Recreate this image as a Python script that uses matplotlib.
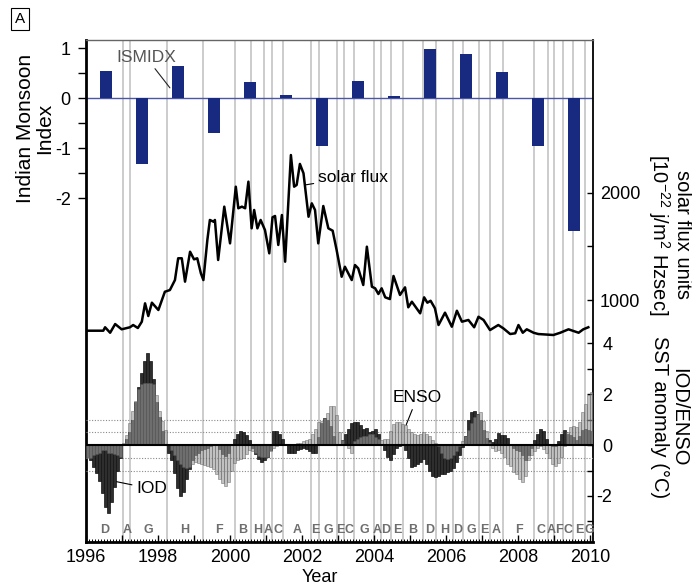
import numpy as np
import matplotlib.pyplot as plt
from matplotlib import transforms
from matplotlib.ticker import MultipleLocator, FuncFormatter

plt.rcParams['font.family'] = ['Liberation Sans', 'DejaVu Sans']
plt.rcParams['axes.unicode_minus'] = False
plt.rcParams['mathtext.fontset'] = 'custom'
plt.rcParams['mathtext.rm'] = 'Liberation Sans'

# Indian summer monsoon index, one value per year
ismidx_years = np.arange(1996, 2010)
ismidx = [0.55, -1.31, 0.65, -0.69, 0.33, 0.07, -0.95,
          0.35, 0.05, 0.99, 0.89, 0.53, -0.95, -2.65]

# solar flux
flux_year = [1996.0, 1996.48, 1996.53, 1996.67, 1996.81, 1996.99, 1997.22, 1997.31,
             1997.44, 1997.55, 1997.64, 1997.73, 1997.83, 1998.01, 1998.19, 1998.33,
             1998.47, 1998.56, 1998.66, 1998.75, 1998.89, 1999.0, 1999.09, 1999.19,
             1999.26, 1999.37, 1999.44, 1999.54, 1999.58, 1999.67, 1999.84, 2000.0,
             2000.16, 2000.23, 2000.33, 2000.42, 2000.51, 2000.6, 2000.67, 2000.76,
             2000.85, 2000.97, 2001.09, 2001.18, 2001.25, 2001.34, 2001.44, 2001.53,
             2001.69, 2001.78, 2001.85, 2001.94, 2002.04, 2002.18, 2002.27, 2002.36,
             2002.45, 2002.59, 2002.73, 2002.85, 2002.96, 2003.1, 2003.19, 2003.38,
             2003.47, 2003.56, 2003.7, 2003.8, 2003.94, 2004.03, 2004.12, 2004.21,
             2004.31, 2004.44, 2004.54, 2004.72, 2004.86, 2004.95, 2005.05, 2005.28,
             2005.39, 2005.48, 2005.57, 2005.69, 2005.79, 2005.97, 2006.16, 2006.3,
             2006.44, 2006.62, 2006.78, 2006.9, 2007.04, 2007.22, 2007.45, 2007.59,
             2007.78, 2007.92, 2008.01, 2008.13, 2008.24, 2008.43, 2008.56, 2008.98,
             2009.17, 2009.4, 2009.68, 2009.81, 2009.95]
flux_val = [714, 714, 746, 695, 776, 727, 746, 767,
            739, 798, 969, 851, 975, 907, 1077, 1093,
            1186, 1389, 1389, 1171, 1450, 1379, 1389, 1249,
            1186, 1559, 1746, 1730, 1746, 1373, 1870, 1528,
            2056, 1855, 1870, 1855, 2103, 1668, 1839, 1668,
            1746, 1652, 1435, 1771, 1783, 1513, 1792, 1357,
            2351, 2056, 2072, 2268, 2181, 1776, 1901, 1839,
            1528, 1876, 1668, 1646, 1466, 1217, 1310, 1186,
            1326, 1295, 1140, 1497, 1124, 1109, 1056, 1109,
            1025, 1009, 1224, 1047, 1118, 932, 984, 876,
            1025, 975, 993, 923, 767, 882, 751, 900,
            798, 814, 746, 844, 814, 720, 767, 736,
            683, 690, 767, 695, 727, 695, 683, 674,
            695, 727, 695, 727, 746]

# monthly SST anomalies, Jan 1996 - Jan 2010
iod = [-0.45, -0.6, -0.85, -1.1, -1.4, -1.9, -2.45, -2.68, -2.25, -1.65, -1.0, -0.5,
       0.05, 0.25, 0.5, 1.0, 1.7, 2.3, 2.85, 3.3, 3.6, 3.3, 2.6, 1.7,
       1.1, 0.55, 0.05, -0.3, -0.6, -1.1, -1.7, -2.0, -1.85, -1.35, -0.95, -0.6,
       -0.4, -0.3, -0.2, -0.15, -0.12, -0.05, 0.04, 0.0, -0.15, -0.35, -0.42, -0.3,
       0.05, 0.25, 0.45, 0.56, 0.52, 0.4, 0.2, -0.1, -0.35, -0.55, -0.65, -0.6,
       -0.45, -0.2, 0.55, 0.56, 0.45, 0.25, 0.02, -0.3, -0.32, -0.3, -0.2, -0.15,
       -0.12, -0.15, -0.25, -0.3, -0.32, 0.3, 0.85, 1.05, 1.0, 0.75, 0.35, 0.05,
       0.0, 0.2, 0.45, 0.65, 0.85, 0.92, 0.9, 0.8, 0.65, 0.68, 0.52, 0.56,
       0.62, 0.45, 0.05, -0.2, -0.45, -0.58, -0.35, -0.1, -0.04, 0.0, -0.2, -0.5,
       -0.88, -0.82, -0.76, -0.68, -0.56, -0.75, -1.0, -1.2, -1.24, -1.2, -1.15, -1.12,
       -1.07, -1.02, -0.92, -0.68, -0.38, -0.08, 0.35, 1.0, 1.3, 1.35, 1.22, 0.98,
       0.6, 0.28, 0.18, 0.12, 0.22, 0.48, 0.4, 0.38, 0.28, 0.0, -0.1, -0.2,
       -0.25, -0.38, -0.6, -0.4, -0.1, 0.18, 0.45, 0.65, 0.55, 0.25, 0.05, -0.03,
       -0.05, 0.15, 0.45, 0.6, 0.42, 0.38, 0.3, 0.18, 0.35, 0.6, 0.62, 0.6,
       0.55]
enso = [-0.5, -0.5, -0.4, -0.35, -0.3, -0.2, -0.2, -0.3, -0.3, -0.35, -0.4, -0.45,
        0.1, 0.4, 0.85, 1.35, 1.75, 2.2, 2.4, 2.45, 2.45, 2.45, 2.4, 1.95,
        1.35, 0.95, 0.6, 0.0, -0.2, -0.4, -0.6, -0.75, -0.85, -0.9, -0.85, -0.75,
        -0.68, -0.72, -0.75, -0.8, -0.82, -0.88, -0.95, -1.15, -1.35, -1.5, -1.6, -1.45,
        -1.0, -0.7, -0.6, -0.55, -0.5, -0.35, -0.2, -0.22, -0.3, -0.42, -0.48, -0.48,
        -0.45, -0.25, -0.12, -0.05, 0.0, 0.0, 0.02, 0.04, 0.0, 0.02, 0.08, 0.1,
        0.15, 0.18, 0.25, 0.45, 0.65, 0.9, 0.95, 1.05, 1.25, 1.55, 1.55, 1.2,
        0.5, 0.2, 0.0, -0.1, -0.32, 0.15, 0.25, 0.3, 0.35, 0.37, 0.42, 0.43,
        0.3, 0.24, 0.2, 0.22, 0.25, 0.55, 0.82, 0.89, 0.89, 0.82, 0.78, 0.65,
        0.5, 0.43, 0.4, 0.43, 0.52, 0.45, 0.35, 0.18, 0.1, -0.05, -0.3, -0.5,
        -0.55, -0.5, -0.4, -0.25, -0.05, 0.15, 0.35, 0.6, 0.85, 1.1, 1.22, 1.28,
        0.95, 0.55, 0.12, -0.12, -0.22, -0.2, -0.3, -0.45, -0.75, -0.82, -1.07, -1.15,
        -1.35, -1.46, -1.2, -0.6, -0.38, -0.25, -0.1, -0.05, -0.15, -0.3, -0.5, -0.75,
        -0.84, -0.72, -0.45, -0.05, 0.5, 0.7, 0.75, 0.72, 0.9, 1.3, 1.6, 1.95,
        2.1]
months = 1996 + (np.arange(len(iod)) + 0.5) / 12

# event boundaries and the class letter of each interval
event_bounds = [1997.04, 1997.22, 1998.25, 1999.24, 2000.14, 2000.58, 2000.94, 2001.17,
                2001.47, 2002.25, 2002.47, 2002.97, 2003.17, 2003.44, 2004.0, 2004.19,
                2004.47, 2004.81, 2005.36, 2005.72, 2006.19, 2006.47, 2006.92, 2007.22,
                2007.58, 2008.44, 2008.83, 2009.0, 2009.25, 2009.53, 2009.86]
event_letters = list('DAGHFBHACAEGECGADEBDHDGEAFCAFCEG')

X0, X1 = 1996, 2010.08

fig = plt.figure(figsize=(6.92, 5.88), dpi=100)
rect = [86/692, 46/588, 507/692, 502/588]
ax_m = fig.add_axes(rect)
ax_f = fig.add_axes(rect, sharex=ax_m, facecolor='none')
ax_s = fig.add_axes(rect, sharex=ax_m, facecolor='none')

# --- monsoon index (top) ---
for b in event_bounds:
    ax_m.axvline(b, color='#c4c4c4', lw=1.2, zorder=0)
ax_m.axhline(0, color='#4a56a6', lw=1, zorder=1)
ax_m.bar(ismidx_years + 0.55, ismidx, width=0.33, color='#172a80', zorder=2)
ax_m.set_xlim(X0, X1)
ax_m.set_ylim(-8.87, 1.166)
ax_m.set_yticks([-2, -1, 0, 1])
ax_m.set_yticks([-1.5, -0.5, 0.5], minor=True)
ax_m.tick_params(axis='y', which='both', direction='out', length=6, width=1,
                 labelsize=13, pad=5)
ax_m.xaxis.set_major_locator(MultipleLocator(1))
ax_m.xaxis.set_minor_locator(MultipleLocator(1/12))
ax_m.xaxis.set_major_formatter(FuncFormatter(
    lambda v, p: str(int(round(v))) if int(round(v)) % 2 == 0 else ''))
ax_m.tick_params(axis='x', which='major', direction='in', length=5, width=1,
                 labelsize=13, pad=5)
ax_m.tick_params(axis='x', which='minor', direction='in', length=2.5, width=0.7)
ax_m.spines['left'].set_linewidth(2)
ax_m.spines['bottom'].set_linewidth(2)
ax_m.spines['right'].set_linewidth(1.3)
ax_m.spines['top'].set_linewidth(1)
ax_m.spines['top'].set_color('#666666')

trans = transforms.blended_transform_factory(ax_m.transData, ax_m.transAxes)
edges = [X0] + event_bounds + [X1]
for i, letter in enumerate(event_letters):
    ax_m.text((edges[i] + edges[i + 1]) / 2, 0.024, letter, transform=trans,
              ha='center', va='center', fontsize=9, fontweight='bold',
              color='#6e6e6e')

ax_m.annotate('ISMIDX', xy=(1998.33, 0.21), xytext=(1997.67, 0.82),
              ha='center', va='center', fontsize=12.5, color='#555555',
              arrowprops=dict(arrowstyle='-', color='#222222', lw=0.8,
                              shrinkA=1, shrinkB=0))

# --- solar flux (middle) ---
ax_f.plot(flux_year, flux_val, color='black', lw=1.8)
ax_f.set_ylim(-1255, 3423)
ax_f.yaxis.tick_right()
ax_f.set_yticks([1000, 2000])
ax_f.set_yticks([1500], minor=True)
ax_f.tick_params(axis='y', which='both', direction='in', length=4, width=1,
                 labelsize=13, pad=5)
ax_f.tick_params(axis='x', which='both', bottom=False, labelbottom=False)
for s in ax_f.spines.values():
    s.set_visible(False)
ax_f.annotate('solar flux', xy=(2002.08, 2072), xytext=(2003.41, 2146),
              ha='center', va='center', fontsize=12.5,
              arrowprops=dict(arrowstyle='-', color='black', lw=0.8,
                              shrinkA=1, shrinkB=0))

# --- IOD / ENSO (bottom) ---
for v in (-1, -0.5, 0.5, 1):
    ax_s.axhline(v, color='#8a8a8a', lw=0.8, ls=(0, (1, 1.5)), zorder=0)
ax_s.bar(months, iod, width=1/12, color='#2e2e2e', edgecolor='#111111',
         lw=0.5, zorder=2)
ax_s.bar(months, enso, width=1/12, color='#999999', edgecolor='#555555',
         lw=0.5, alpha=0.6, zorder=3)
ax_s.axhline(0, color='black', lw=1.5, zorder=4)
ax_s.set_ylim(-3.81, 15.92)
ax_s.yaxis.tick_right()
ax_s.set_yticks([-2, 0, 2, 4])
ax_s.set_yticks([-3, -1, 1, 3], minor=True)
ax_s.tick_params(axis='y', which='both', direction='in', length=4, width=1,
                 labelsize=13, pad=14)
for lbl in ax_s.get_yticklabels():
    lbl.set_horizontalalignment('right')
ax_s.tick_params(axis='x', which='both', bottom=False, labelbottom=False)
for s in ax_s.spines.values():
    s.set_visible(False)
ax_s.annotate('ENSO', xy=(2004.89, 0.79), xytext=(2005.19, 1.85),
              ha='center', va='center', fontsize=12.5,
              arrowprops=dict(arrowstyle='-', color='black', lw=0.8,
                              shrinkA=1, shrinkB=0))
ax_s.annotate('IOD', xy=(1996.85, -1.44), xytext=(1997.82, -1.72),
              ha='center', va='center', fontsize=12.5,
              arrowprops=dict(arrowstyle='-', color='black', lw=0.8,
                              shrinkA=1, shrinkB=0))

# --- figure texts ---
fig.text(20/692, 1 - 19/588, 'A', ha='center', va='center', fontsize=11,
         bbox=dict(boxstyle='square,pad=0.25', fc='white', ec='black', lw=0.8))
fig.text(35/692, 1 - 128/588, 'Indian Monsoon\nIndex', rotation=90,
         ha='center', va='center', fontsize=15, linespacing=1.0)
fig.text(669/692, 1 - 235/588, 'solar flux units\n[10$^{-22}$ j/m$^{2}$ Hzsec]',
         rotation=-90, ha='center', va='center', fontsize=14.5, linespacing=1.05)
fig.text(669/692, 1 - 417/588, 'IOD/ENSO\nSST anomaly (°C)',
         rotation=-90, ha='center', va='center', fontsize=14.5, linespacing=1.05)
fig.text(320/692, 1 - 578/588, 'Year', ha='center', va='center', fontsize=13)

fig.savefig('out.png', dpi=100)
